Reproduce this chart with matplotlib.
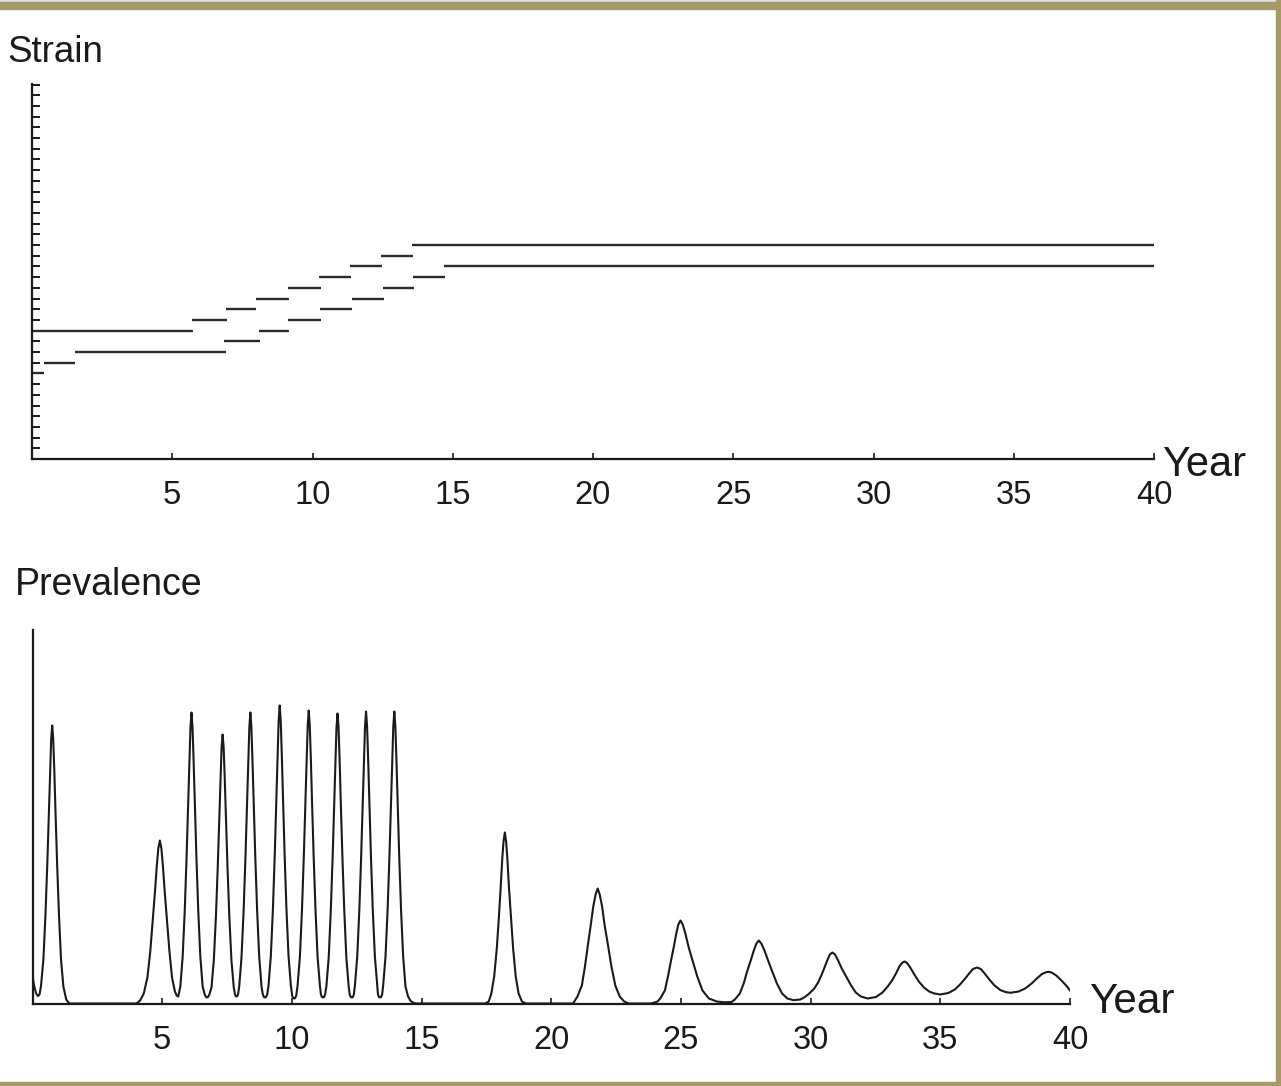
import matplotlib
matplotlib.use("Agg")
import matplotlib.pyplot as plt
from matplotlib.patches import Rectangle

plt.rcParams['font.family'] = ['Liberation Sans', 'DejaVu Sans']

# ---- Strain panel: each dominant strain is a horizontal bar (strain index, start year, end year)
seg_strain = [8, 9, 10, 12, 13, 14, 15, 16, 17, 18, 19, 20,
              11, 12, 13, 14, 15, 16, 17, 18]
seg_start = [0.00, 0.44, 1.52, 0.00, 5.70, 6.90, 7.99, 9.14, 10.24, 11.34, 12.44, 13.56,
             6.86, 8.10, 9.14, 10.27, 11.40, 12.50, 13.60, 14.70]
seg_end = [0.44, 1.52, 6.90, 5.73, 6.94, 8.00, 9.15, 10.29, 11.36, 12.47, 13.57, 40.0,
           8.14, 9.17, 10.30, 11.42, 12.54, 13.63, 14.73, 40.0]
strain_ticks = list(range(1, 36))

# ---- Prevalence panel: time (years) and prevalence (arbitrary units)
prev_t = [
    0.00, 0.07, 0.14, 0.21, 0.27, 0.33, 0.42, 0.50, 0.57, 0.63, 0.68, 0.72, 0.76,
    0.80, 0.84, 0.89, 0.95, 1.02, 1.10, 1.19, 1.30, 1.42,
    3.95, 4.01, 4.15, 4.29, 4.43, 4.54, 4.63, 4.72, 4.79, 4.85, 4.91,
    4.97, 5.03, 5.10, 5.19, 5.28, 5.38, 5.49, 5.56, 5.62,
    5.70, 5.79, 5.87, 5.94, 6.00, 6.05, 6.09, 6.13, 6.17, 6.21, 6.26, 6.32, 6.39, 6.47, 6.56,
    6.64, 6.69, 6.73, 6.77, 6.82,
    6.90, 6.99, 7.07, 7.14, 7.20, 7.25, 7.29, 7.33, 7.37, 7.41, 7.46, 7.52, 7.59, 7.67, 7.76,
    7.80, 7.83, 7.86, 7.90, 7.93,
    7.97, 8.06, 8.14, 8.21, 8.27, 8.32, 8.36, 8.40, 8.44, 8.48, 8.53, 8.59, 8.66, 8.74, 8.83,
    8.88, 8.92, 8.96, 9.00, 9.05,
    9.10, 9.19, 9.27, 9.34, 9.40, 9.45, 9.49, 9.53, 9.57, 9.61, 9.66, 9.72, 9.79, 9.87, 9.96,
    10.01, 10.05, 10.09, 10.13, 10.17,
    10.22, 10.31, 10.39, 10.46, 10.52, 10.57, 10.61, 10.65, 10.69, 10.73, 10.78, 10.84, 10.91, 10.99, 11.08,
    11.12, 11.16, 11.20, 11.24, 11.28,
    11.33, 11.42, 11.50, 11.57, 11.63, 11.68, 11.72, 11.76, 11.80, 11.84, 11.89, 11.95, 12.02, 12.10, 12.19,
    12.23, 12.27, 12.31, 12.35, 12.39,
    12.43, 12.52, 12.60, 12.67, 12.73, 12.78, 12.82, 12.86, 12.90, 12.94, 12.99, 13.05, 13.12, 13.20, 13.29,
    13.32, 13.36, 13.40, 13.44, 13.48,
    13.52, 13.61, 13.69, 13.76, 13.82, 13.87, 13.91, 13.95, 13.99, 14.03, 14.08, 14.14, 14.21, 14.29, 14.38,
    14.48, 14.58, 14.70, 14.80,
    17.45, 17.59, 17.69, 17.80, 17.90, 17.98, 18.05, 18.11, 18.16, 18.21,
    18.26, 18.31, 18.37, 18.45, 18.53, 18.63, 18.74, 18.87, 19.02,
    20.84, 21.01, 21.18, 21.30, 21.41, 21.52, 21.62, 21.71, 21.79,
    21.87, 21.96, 22.06, 22.19, 22.32, 22.47, 22.64, 22.81, 22.99,
    23.85, 24.10, 24.20, 24.38, 24.50, 24.61, 24.72, 24.82, 24.90, 24.98,
    25.07, 25.17, 25.30, 25.46, 25.63, 25.83, 26.08, 26.38, 26.68,
    26.95, 27.08, 27.27, 27.42, 27.55, 27.69, 27.81, 27.91, 28.00,
    28.10, 28.22, 28.36, 28.52, 28.70, 28.90, 29.10, 29.34,
    29.60, 29.75, 29.95, 30.14, 30.29, 30.41, 30.52, 30.64, 30.74, 30.84,
    30.94, 31.06, 31.20, 31.39, 31.56, 31.74, 31.94, 32.20,
    32.52, 32.77, 32.97, 33.14, 33.29, 33.42, 33.52, 33.62,
    33.72, 33.84, 34.00, 34.17, 34.37, 34.57, 34.77, 35.00,
    35.31, 35.56, 35.76, 35.96, 36.11, 36.26, 36.41,
    36.56, 36.71, 36.89, 37.09, 37.31, 37.51, 37.70,
    38.02, 38.27, 38.52, 38.72, 38.92, 39.07, 39.17,
    39.29, 39.47, 39.67, 39.87, 40.00,
]
prev_v = [
    27, 17, 10, 7.5, 9, 18, 44, 89, 139, 189, 234, 264, 278,
    264, 234, 189, 139, 89, 44, 17, 4, 0,
    0, 0, 3, 10, 26, 52, 82, 111, 137, 155, 163,
    155, 137, 111, 82, 52, 26, 12, 8, 7,
    17, 47, 93, 146, 198, 244, 276, 291, 276, 244, 198, 146, 93, 47, 17,
    9, 6.5, 6, 6.5, 9,
    16, 43, 86, 135, 183, 226, 256, 269, 256, 226, 183, 135, 86, 43, 16,
    10, 7.5, 7, 7.5, 10,
    17, 47, 93, 146, 198, 244, 276, 291, 276, 244, 198, 146, 93, 47, 17,
    9, 6.5, 6, 6.5, 9,
    18, 48, 95, 149, 203, 250, 283, 298, 283, 250, 203, 149, 95, 48, 18,
    8, 5.5, 5, 5.5, 8,
    18, 47, 94, 147, 199, 246, 278, 293, 278, 246, 199, 147, 94, 47, 18,
    9, 6.5, 6, 6.5, 9,
    17, 46, 93, 145, 197, 244, 276, 290, 276, 244, 197, 145, 93, 46, 17,
    9, 6.5, 6, 6.5, 9,
    18, 47, 93, 146, 199, 245, 277, 292, 277, 245, 199, 146, 93, 47, 18,
    9, 6.5, 6, 6.5, 9,
    18, 47, 93, 146, 199, 245, 277, 292, 277, 245, 199, 146, 93, 47, 17,
    7, 2.5, 0.5, 0,
    0, 2, 10, 27, 55, 86, 116, 144, 162, 171,
    162, 144, 116, 86, 55, 27, 10, 2, 0,
    0, 7, 18, 37, 58, 78, 97, 109, 115,
    109, 97, 78, 58, 37, 18, 7, 2, 0,
    0, 2, 5, 13, 27, 42, 56, 70, 79, 83,
    79, 70, 56, 42, 27, 13, 5, 2, 1.2,
    1.5, 4, 10, 20, 32, 43, 53, 60, 63,
    60, 53, 43, 32, 20, 10, 5, 3.3,
    4, 6, 10, 15, 21, 28, 35, 43, 49, 51,
    49, 43, 35, 26, 18, 11, 7, 5,
    6.5, 11, 17, 23, 30, 37, 40.5, 42,
    40.5, 36, 29, 22, 16, 12, 10, 9,
    10.5, 14, 19, 25, 30, 34.5, 36,
    34.5, 30, 24, 18, 13.5, 11.5, 10.7,
    12, 15, 20, 25, 29.5, 31.2, 31.7,
    31, 28, 23, 17.5, 13,
]
year_ticks = [5, 10, 15, 20, 25, 30, 35, 40]

W, H = 1281, 1086
fig = plt.figure(figsize=(W / 100, H / 100), dpi=100)
fig.patch.set_facecolor('white')

ink = '#1a1a1a'
tick_fs = 23.5


def style_axis(ax):
    for side in ('top', 'right'):
        ax.spines[side].set_visible(False)
    for side in ('left', 'bottom'):
        ax.spines[side].set_linewidth(1.6)
        ax.spines[side].set_color(ink)
    ax.set_xlim(0, 40)
    ax.set_xticks(year_ticks)
    ax.set_xticklabels([str(v) for v in year_ticks])
    ax.tick_params(axis='x', direction='in', length=4.5, width=1.2,
                   colors=ink, labelsize=tick_fs, pad=15)
    ax.patch.set_alpha(0)


# Strain panel
ax1 = fig.add_axes([32 / W, 1 - 459 / H, 1122 / W, 375.5 / H])
style_axis(ax1)
ax1.set_ylim(0, 35.1)
ax1.set_yticks(strain_ticks)
ax1.set_yticklabels([])
ax1.tick_params(axis='y', direction='in', length=5.8, width=1.4, colors=ink)
ax1.hlines(seg_strain, seg_start, seg_end, colors='#2a2a2a', linewidth=1.7,
           capstyle='butt')

# Prevalence panel
ax2 = fig.add_axes([32.5 / W, 1 - 1003.5 / H, 1037.5 / W, 373.5 / H])
style_axis(ax2)
ax2.set_ylim(0, 373.5)
ax2.set_yticks([])
ax2.plot(prev_t, prev_v, color=ink, linewidth=1.5, solid_joinstyle='round')
ax2.tick_params(axis='x', pad=15.5)

# Axis titles
fig.text(7 / W, 1 - 62 / H, 'Strain', fontsize=26.5, color=ink, ha='left', va='baseline')
fig.text(1162 / W, 1 - 476 / H, 'Year', fontsize=30, color=ink, ha='left', va='baseline')
fig.text(15 / W, 1 - 595 / H, 'Prevalence', fontsize=27, color=ink, ha='left', va='baseline')
fig.text(1089 / W, 1 - 1013 / H, 'Year', fontsize=30.5, color=ink, ha='left', va='baseline')

# Frame around the figure
tan = '#a69a68'
fig.patches.extend([
    Rectangle((0, 1 - 2 / H), 1, 2 / H, transform=fig.transFigure, color='#dfe3e8', zorder=-1),
    Rectangle((0, 1 - 9.3 / H), 1, 7.3 / H, transform=fig.transFigure, color=tan, zorder=-1),
    Rectangle((1275.5 / W, 0), 5.5 / W, 1, transform=fig.transFigure, color=tan, zorder=-1),
    Rectangle((0, 0), 1, 4.5 / H, transform=fig.transFigure, color=tan, zorder=-1),
])

fig.savefig('out.png', dpi=100)
